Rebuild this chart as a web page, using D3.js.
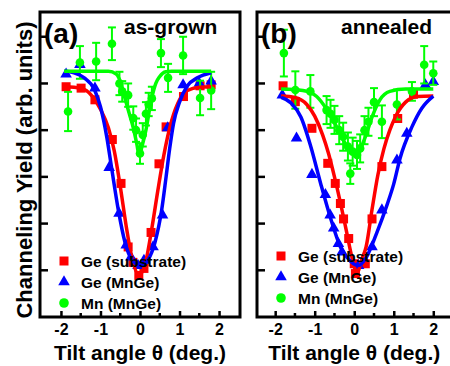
<!DOCTYPE html>
<html>
<head>
<meta charset="utf-8">
<script src="https://cdn.jsdelivr.net/npm/d3@7"></script>
<style>
  body { margin: 0; background: #fff; }
  text { font-family: Arial, "Liberation Sans", sans-serif; font-weight: bold; fill: #000; }
</style>
</head>
<body>
<svg width="450" height="366"></svg>
<script>
// ---- data ----
var xTicks = [-2, -1, 0, 1, 2];
var xMinorTicks = [-1.5, -0.5, 0.5, 1.5];
var yTicks = [1, 2, 3, 4, 5, 6];
var seriesNames = ["Ge (substrate)", "Ge (MnGe)", "Mn (MnGe)"];
var panelLabels = ["(a)", "(b)"];
var panelTitles = ["as-grown", "annealed"];

// (a) as-grown : [tilt, yield] and [tilt, yield, err]
var geSubA = [[-1.87,4.93],[-1.49,4.9],[-1.14,4.65],[-0.7,3.8],[-0.48,2.86],[-0.3,1.5],[-0.18,1.17],[-0.03,0.89],[0.1,1.04],[0.28,1.81],[0.48,3.28],[0.66,4.07],[1.1,4.72],[1.52,4.95],[1.8,4.97]];
var geMnA = [[-1.87,5.2],[-1.52,5.4],[-1.14,4.9],[-0.78,3.2],[-0.53,2.22],[-0.35,1.54],[-0.23,1.28],[-0.05,1.1],[0.1,1.21],[0.33,1.5],[0.57,2.18],[0.7,4.05],[1.09,4.97],[1.5,5.0],[1.8,5.05]];
var mnA = [[-1.82,4.4,0.42],[-1.52,5.45,0.35],[-1.11,5.47,0.4],[-0.71,5.85,0.35],[-0.52,5.0,0.25],[-0.45,4.83,0.22],[-0.3,4.75,0.25],[-0.17,4.26,0.25],[-0.1,4.0,0.25],[0.0,3.5,0.22],[0.07,3.9,0.25],[0.15,4.35,0.25],[0.22,4.55,0.25],[0.3,4.68,0.25],[0.53,5.65,0.3],[0.71,5.12,0.3],[1.09,5.6,0.4],[1.52,4.69,0.37],[1.8,4.85,0.4]];
var geSubFitA = [[-1.9,4.93],[-1.5,4.9],[-1.2,4.72],[-1.0,4.45],[-0.8,4.05],[-0.65,3.55],[-0.5,2.8],[-0.35,1.95],[-0.2,1.25],[-0.02,0.9],[0.15,1.2],[0.3,1.9],[0.45,2.7],[0.6,3.45],[0.8,4.2],[1.0,4.65],[1.2,4.85],[1.5,4.92],[1.8,4.93]];
var geMnFitA = [[-1.92,5.26],[-1.67,5.23],[-1.41,5.12],[-1.16,4.88],[-1.0,4.5],[-0.84,3.85],[-0.72,3.2],[-0.55,2.3],[-0.38,1.6],[-0.2,1.22],[0.02,1.1],[0.2,1.22],[0.38,1.6],[0.55,2.3],[0.66,3.0],[0.75,3.6],[0.85,4.15],[1.0,4.6],[1.2,4.95],[1.45,5.12],[1.8,5.23]];
var mnFitA = [[-1.92,5.26],[-0.8,5.26],[-0.6,5.2],[-0.48,5.0],[-0.38,4.68],[-0.27,4.35],[-0.17,4.05],[-0.08,3.7],[-0.02,3.45],[0.05,3.65],[0.15,4.0],[0.28,4.62],[0.4,5.0],[0.5,5.15],[0.65,5.25],[0.8,5.26],[1.8,5.26]];

// (b) annealed
var geSubB = [[-1.8,4.95],[-1.49,4.61],[-1.07,4.04],[-0.67,3.29],[-0.48,2.86],[-0.35,2.43],[-0.27,2.1],[-0.14,1.68],[0.0,1.14],[0.03,0.93],[0.28,1.14],[0.45,2.1],[0.7,3.22],[1.1,4.25],[1.5,4.77]];
var geMnB = [[-1.82,4.75],[-1.46,3.83],[-1.07,3.05],[-0.73,2.62],[-0.61,2.18],[-0.52,1.9],[-0.4,1.57],[-0.31,1.39],[0.11,1.1],[0.45,1.5],[0.7,2.29],[1.08,3.36],[1.33,3.93],[1.8,4.97],[2.0,5.04]];
var mnB = [[-1.78,5.65,0.5],[-1.49,4.86,0.4],[-1.11,4.83,0.35],[-0.7,4.43,0.3],[-0.6,4.35,0.3],[-0.5,4.22,0.3],[-0.38,4.0,0.3],[-0.28,3.86,0.3],[-0.16,3.65,0.3],[-0.1,3.07,0.22],[-0.04,3.54,0.3],[0.07,3.47,0.3],[0.15,3.61,0.3],[0.26,4.0,0.3],[0.36,4.18,0.3],[0.5,4.6,0.3],[0.7,4.18,0.35],[1.08,4.55,0.32],[1.46,4.83,0.2],[1.77,5.4,0.4],[2.0,5.22,0.25]];
var geSubFitB = [[-1.85,4.73],[-1.5,4.7],[-1.2,4.55],[-1.0,4.3],[-0.8,3.9],[-0.65,3.5],[-0.5,3.0],[-0.35,2.45],[-0.2,1.85],[-0.05,1.25],[0.07,0.95],[0.2,1.25],[0.3,1.5],[0.45,2.3],[0.6,3.05],[0.75,3.6],[0.9,4.0],[1.05,4.3],[1.3,4.6],[1.6,4.72],[2.0,4.73]];
var geMnFitB = [[-1.85,4.7],[-1.6,4.58],[-1.35,4.28],[-1.1,3.65],[-0.85,2.86],[-0.6,2.12],[-0.35,1.5],[-0.1,1.2],[0.1,1.1],[0.32,1.3],[0.57,1.8],[0.83,2.4],[1.0,2.85],[1.16,3.4],[1.46,4.07],[1.71,4.47],[2.0,4.73]];
var mnFitB = [[-1.85,4.88],[-1.3,4.85],[-0.95,4.72],[-0.7,4.45],[-0.45,4.08],[-0.2,3.68],[0.05,3.5],[0.3,3.9],[0.45,4.28],[0.65,4.65],[0.9,4.83],[1.3,4.88],[2.0,4.88]];

var colors = ["#ff0000", "#0000ff", "#00ff00"];

var svg = d3.select("svg");

function drawPanel(opt) {
  var x = d3.scaleLinear().domain(opt.xDomain).range([opt.left, opt.left + 200]),
      y = d3.scaleLinear().domain([0, 6.53]).range([317, 12]);
  var g = svg.append("g");

  // fit curves
  var line = d3.line()
    .x(function(d) { return x(d[0]); })
    .y(function(d) { return y(d[1]); })
    .curve(d3.curveMonotoneX);

  // markers
  g.selectAll(".sq").data(opt.sub).enter().append("rect")
    .attr("x", function(d) { return x(d[0]) - 4.5; })
    .attr("y", function(d) { return y(d[1]) - 4.5; })
    .attr("width", 9).attr("height", 9)
    .attr("fill", colors[0]);

  g.selectAll(".tri").data(opt.mnge).enter().append("path")
    .attr("d", d3.symbol().type(d3.symbolTriangle).size(58))
    .attr("transform", function(d) { return "translate(" + x(d[0]) + "," + y(d[1]) + ")"; })
    .attr("fill", colors[1]);

  var mn = g.selectAll(".mn").data(opt.mn).enter().append("g")
    .attr("stroke", colors[2]).attr("stroke-width", 2);
  mn.append("line")
    .attr("x1", function(d) { return x(d[0]); })
    .attr("x2", function(d) { return x(d[0]); })
    .attr("y1", function(d) { return y(d[1] + d[2]); })
    .attr("y2", function(d) { return y(d[1] - d[2]); });
  mn.append("line")
    .attr("x1", function(d) { return x(d[0]) - 4; })
    .attr("x2", function(d) { return x(d[0]) + 4; })
    .attr("y1", function(d) { return y(d[1] + d[2]); })
    .attr("y2", function(d) { return y(d[1] + d[2]); });
  mn.append("line")
    .attr("x1", function(d) { return x(d[0]) - 4; })
    .attr("x2", function(d) { return x(d[0]) + 4; })
    .attr("y1", function(d) { return y(d[1] - d[2]); })
    .attr("y2", function(d) { return y(d[1] - d[2]); });
  mn.append("circle")
    .attr("cx", function(d) { return x(d[0]); })
    .attr("cy", function(d) { return y(d[1]); })
    .attr("r", 4.3).attr("stroke", "none").attr("fill", colors[2]);

  [opt.subFit, opt.mngeFit, opt.mnFit].forEach(function(fit, i) {
    g.append("path").datum(fit)
      .attr("d", line)
      .attr("fill", "none")
      .attr("stroke", colors[i])
      .attr("stroke-width", 3.5);
  });

  // frame and ticks
  var xAxis = g.append("g").attr("transform", "translate(0,317)")
    .call(d3.axisBottom(x).tickValues(xTicks).tickSize(-6).tickFormat(d3.format("d")));
  xAxis.select(".domain").remove();
  xAxis.selectAll("line").attr("stroke", "#000").attr("stroke-width", 2.5);
  xAxis.selectAll("text")
    .attr("y", 18).attr("dy", null)
    .style("font-size", "16px")
    .text(function(d) { return d < 0 ? "-" + Math.abs(d) : d; });

  g.selectAll(".minor").data(xMinorTicks).enter().append("line")
    .attr("x1", function(d) { return x(d); }).attr("x2", function(d) { return x(d); })
    .attr("y1", 317).attr("y2", 313)
    .attr("stroke", "#000").attr("stroke-width", 2.5);

  g.selectAll(".ytick").data(yTicks).enter().append("line")
    .attr("x1", opt.left).attr("x2", opt.left + 8)
    .attr("y1", function(d) { return y(d); }).attr("y2", function(d) { return y(d); })
    .attr("stroke", "#000").attr("stroke-width", 2.5);

  g.append("rect")
    .attr("x", opt.left).attr("y", 12)
    .attr("width", 200).attr("height", 305)
    .attr("fill", "none").attr("stroke", "#000").attr("stroke-width", 3);

  g.append("text").attr("x", opt.left + 4).attr("y", 43)
    .style("font-size", "28px").text(opt.label);
  g.append("text").attr("x", opt.left + 84).attr("y", 34)
    .style("font-size", "21px").text(opt.title);

  // legend
  var leg = g.selectAll(".leg").data(seriesNames).enter().append("g")
    .attr("transform", function(d, i) { return "translate(" + (opt.left + 24) + "," + (opt.legTop + i * 21) + ")"; });
  leg.each(function(d, i) {
    var s = d3.select(this);
    if (i === 0) s.append("rect").attr("x", -4.5).attr("y", -4.5).attr("width", 9).attr("height", 9).attr("fill", colors[0]);
    if (i === 1) s.append("path").attr("d", d3.symbol().type(d3.symbolTriangle).size(58)).attr("fill", colors[1]);
    if (i === 2) s.append("circle").attr("r", 4.8).attr("fill", colors[2]);
  });
  leg.append("text").attr("x", 17).attr("y", 5.5)
    .style("font-size", "15.5px").text(function(d) { return d; });

  g.append("text")
    .attr("x", x(0)).attr("y", 360)
    .attr("text-anchor", "middle")
    .style("font-size", "21px")
    .text("Tilt angle \u03b8 (deg.)");
}

drawPanel({ left: 40, xDomain: [-2.53, 2.53], label: panelLabels[0], title: panelTitles[0], legTop: 261,
  sub: geSubA, mnge: geMnA, mn: mnA, subFit: geSubFitA, mngeFit: geMnFitA, mnFit: mnFitA });
drawPanel({ left: 257, xDomain: [-2.46, 2.6], label: panelLabels[1], title: panelTitles[1], legTop: 256,
  sub: geSubB, mnge: geMnB, mn: mnB, subFit: geSubFitB, mngeFit: geMnFitB, mnFit: mnFitB });

svg.append("text")
  .attr("transform", "translate(32,170) rotate(-90)")
  .attr("text-anchor", "middle")
  .style("font-size", "22px")
  .text("Channeling Yield (arb. units)");
</script>
</body>
</html>
